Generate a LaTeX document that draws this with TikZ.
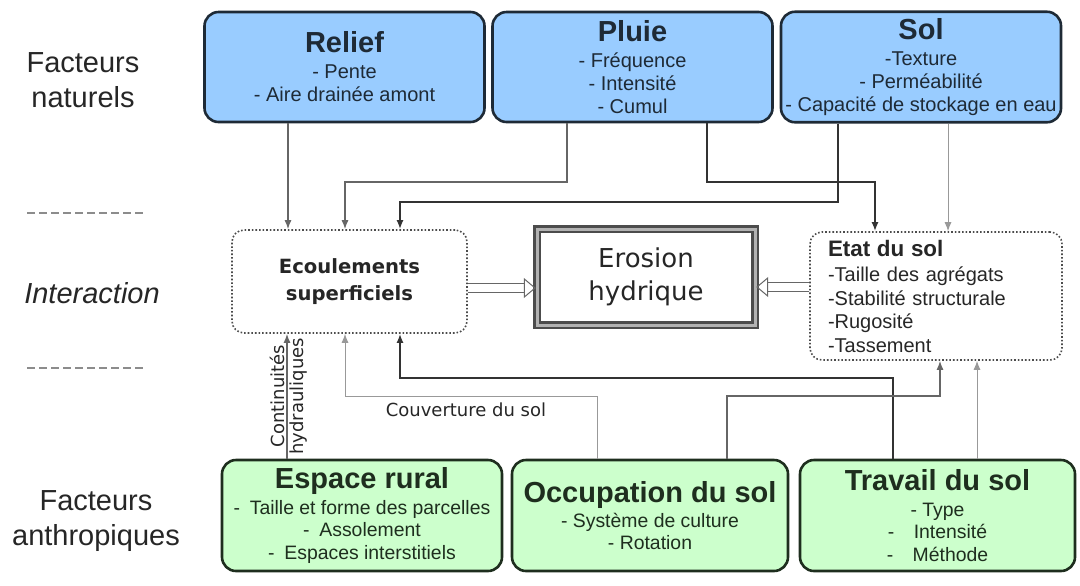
\documentclass[tikz,border=0pt]{standalone}
\usepackage{fontspec}
\setmainfont{Liberation Sans}
\newfontfamily\dejavu{DejaVu Sans}
\usetikzlibrary{arrows.meta}
\definecolor{natfill}{HTML}{99CCFF}
\definecolor{anthfill}{HTML}{CCFFCC}
\definecolor{natline}{HTML}{1E2A36}
\definecolor{anthline}{HTML}{1E2E1E}
\newcommand\titre[1]{{\fontsize{14.5}{16}\selectfont\bfseries #1}\\[1.5pt]}
\tikzset{>={Latex[length = 4.5pt, width = 3.5pt]}}
\tikzset{
	natbox/.style = {draw = natline, fill = natfill, line width = 1.3pt, rounded corners = 7pt, minimum width = 140pt, minimum height = 55pt, inner xsep = 1pt, align = center, text = natline, font = \fontsize{10}{11.5}\selectfont},
	anthbox/.style = {natbox, draw = anthline, fill = anthfill, text = anthline, minimum height = 55.5pt, font = \fontsize{9.7}{11.2}\selectfont},
	interbox/.style = {draw = black!70, densely dotted, line width = 0.8pt, rounded corners = 6pt},
	darklink/.style = {->, draw = black!80, line width = 0.9pt},
	link/.style = {->, draw = black!60, line width = 0.7pt},
	thinlink/.style = {->, draw = black!40, line width = 0.5pt},
	hollow/.style = {draw = black!60, line width = 0.5pt, double = white, double distance = 4pt, -{Triangle[open, length = 6pt, width = 10pt]}},
	sidelabel/.style = {align = center, text = black!85, font = \fontsize{14.5}{17.5}\selectfont},
	seprule/.style = {draw = black!45, line width = 0.6pt, dash pattern = on 4pt off 2pt},
	linklabel/.style = {inner sep = 1pt, text = black!85, font = \dejavu\fontsize{9}{10}\selectfont}
}

\begin{document}
\begin{tikzpicture}[x = 0.5pt, y = -0.5pt]
	\useasboundingbox (0, 0) rectangle (1080, 585);
	\node[sidelabel] (nat) at (83, 80) {Facteurs\\naturels};
	\node[sidelabel] (inter) at (92, 293) {\itshape Interaction};
	\node[sidelabel] (anth) at (96, 521) {Facteurs\\anthropiques};
	\draw[seprule] (27, 213) -- (145, 213);
	\draw[seprule] (27, 368) -- (145, 368);

	\node[natbox] (relief) at (344.5, 67) {\titre{Relief}- Pente\\- Aire drainée amont};
	\node[natbox] (pluie) at (632.5, 67) {\titre{Pluie}- Fréquence\\- Intensité\\- Cumul};
	\node[natbox] (sol) at (921, 67) {\titre{Sol}-Texture\\- Perméabilité\\- Capacité de stockage en eau};

	\node[interbox, minimum width = 117.5pt, minimum height = 51.5pt, align = center, text = black!85, font = \dejavu\bfseries\fontsize{9.8}{13.5}\selectfont] (ecoul) at (349.5, 281.5) {Ecoulements\\superficiels};
	\node[draw = black!70, line width = 1.2pt, double = black!30, double distance = 1.5pt, minimum width = 109pt, minimum height = 48pt, align = center, text = black!85, font = \dejavu\fontsize{13}{16.5}\selectfont] (erosion) at (646, 277) {Erosion\\hydrique};
	\node[interbox, minimum width = 126pt, minimum height = 64pt, text width = 108pt, inner xsep = 9pt, align = left, text = black!85, font = \fontsize{10}{11.75}\selectfont] (etat) at (936, 296) {{\fontsize{11.2}{13}\selectfont\bfseries Etat du sol}\\[1pt]-Taille des agrégats\\-Stabilité structurale\\-Rugosité\\-Tassement};

	\node[anthbox, minimum width = 140pt] (espace) at (362, 515.5) {\titre{Espace rural}-\enspace Taille et forme des parcelles\\-\enspace Assolement\\-\enspace Espaces interstitiels};
	\node[anthbox, minimum width = 138pt] (occup) at (650, 515.5) {\titre{Occupation du sol}- Système de culture\\- Rotation};
	\node[anthbox, minimum width = 137.5pt] (travail) at (937.5, 515.5) {\titre{Travail du sol}- Type\\-\quad Intensité\\-\quad Méthode};

	\draw[hollow] ([yshift = -3.25pt]ecoul.east) -- ([yshift = -3.25pt]ecoul.east -| erosion.west);
	\draw[hollow] ([yshift = 4.5pt]etat.west) -- ([yshift = 4.5pt]etat.west -| erosion.east);

	\draw[link] (relief.south -| 288, 0) -- (ecoul.north -| 288, 0);
	\draw[link] (pluie.south -| 567, 0) |- (345, 182) -- (ecoul.north -| 345, 0);
	\draw[darklink] (pluie.south -| 707, 0) |- (875, 182) -- (etat.north -| 875, 0);
	\draw[darklink] (sol.south -| 838, 0) |- (400, 202) -- (ecoul.north -| 400, 0);
	\draw[thinlink] (sol.south -| 948, 0) -- (etat.north -| 948, 0);

	\draw[link] (espace.north -| 287, 0) -- (ecoul.south -| 287, 0)
		node[linklabel, midway, rotate = 90, anchor = south] {Continuités}
		node[linklabel, midway, rotate = 90, anchor = north] {hydrauliques};
	\draw[thinlink] (occup.north -| 597, 0) |- (345, 396)
		node[linklabel, pos = 0.76, below = 2pt] {Couverture du sol}
		-- (ecoul.south -| 345, 0);
	\draw[darklink] (travail.north -| 893, 0) |- (400, 378) -- (ecoul.south -| 400, 0);
	\draw[link] (occup.north -| 727, 0) |- (940, 396) -- (etat.south -| 940, 0);
	\draw[thinlink] (travail.north -| 977, 0) -- (etat.south -| 977, 0);
\end{tikzpicture}
\end{document}
